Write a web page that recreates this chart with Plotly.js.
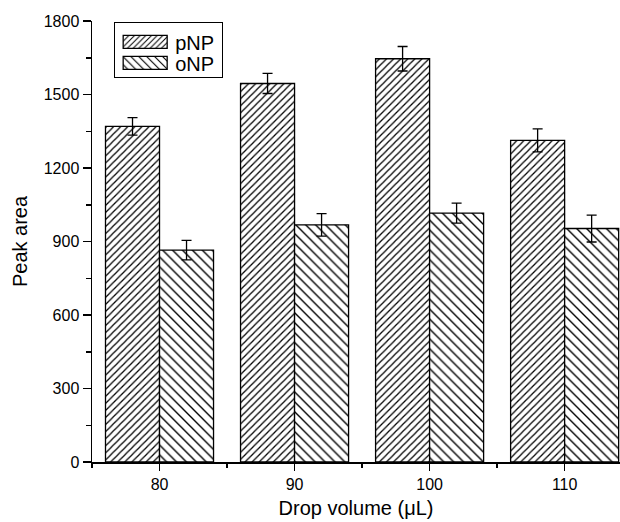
<!DOCTYPE html>
<html>
<head>
<meta charset="utf-8">
<script src="https://cdn.plot.ly/plotly-3.0.1.min.js"></script>
<style>html,body{margin:0;padding:0;background:#fff;overflow:hidden;}</style>
</head>
<body>
<div id="chart" style="width:620px;height:522px;"></div>
<script>
const volumes = [80, 90, 100, 110];
const pNP = [1370, 1545, 1646, 1313];
const pNPErr = [36, 41, 50, 47];
const oNP = [865, 968, 1016, 953];
const oNPErr = [40, 46, 41, 55];
const xTicks = [80, 90, 100, 110];

const font = "Liberation Sans, Arial, sans-serif";

const traces = [
  {
    type: 'bar', name: 'pNP', x: volumes, y: pNP,
    error_y: {type: 'data', array: pNPErr, visible: true, color: '#000', thickness: 1.3, width: 5},
    marker: {color: '#fff', line: {color: '#000', width: 1.3},
      pattern: {shape: '/', fgcolor: '#000', bgcolor: '#fff', size: 5, solidity: 0.25}}
  },
  {
    type: 'bar', name: 'oNP', x: volumes, y: oNP,
    error_y: {type: 'data', array: oNPErr, visible: true, color: '#000', thickness: 1.3, width: 5},
    marker: {color: '#fff', line: {color: '#000', width: 1.3},
      pattern: {shape: '\\', fgcolor: '#000', bgcolor: '#fff', size: 7, solidity: 0.2}}
  }
];

const layout = {
  width: 620, height: 522,
  margin: {l: 92, r: 0, t: 21, b: 60},
  paper_bgcolor: '#fff', plot_bgcolor: '#fff',
  barmode: 'group', bargap: 0.2, bargroupgap: 0,
  font: {family: font, color: '#000', size: 16},
  showlegend: true,
  legend: {x: 0.042, y: 0.998, xanchor: 'left', yanchor: 'top',
    bordercolor: '#000', borderwidth: 1, bgcolor: '#fff', itemwidth: 50,
    font: {family: font, size: 20, color: '#000'}, tracegroupgap: 0},
  xaxis: {
    range: [75, 114.1], tickmode: 'array', tickvals: xTicks, ticktext: xTicks.map(String),
    showgrid: false, zeroline: false, showline: true, linecolor: '#000', linewidth: 1.5,
    ticks: 'outside', ticklen: 7, tickwidth: 1.5, tickcolor: '#000',
    minor: {tick0: 75, dtick: 10, ticks: 'outside', ticklen: 4, tickwidth: 1.5, tickcolor: '#000', showgrid: false},
    tickfont: {family: font, size: 16},
    title: {text: 'Drop volume (μL)', font: {family: font, size: 20}, standoff: 9}
  },
  yaxis: {
    range: [0, 1800], dtick: 300, tick0: 0,
    showgrid: false, zeroline: false, showline: true, linecolor: '#000', linewidth: 1.5,
    ticks: 'outside', ticklen: 8, tickwidth: 1.5, tickcolor: '#000',
    minor: {dtick: 150, ticks: 'outside', ticklen: 5, tickwidth: 1.5, tickcolor: '#000', showgrid: false},
    tickfont: {family: font, size: 16},
    title: {text: 'Peak area', font: {family: font, size: 20}, standoff: 10}
  }
};

Plotly.newPlot('chart', traces, layout, {displayModeBar: false, staticPlot: true}).then(function (gd) {
  // widen legend swatches and tighten rows to match the reference legend box
  gd.querySelectorAll('.legend .legendpoints path').forEach(function (p) {
    p.setAttribute('d', 'M22,6.5H-22V-6.5H22Z');
  });
  const leg = gd.querySelector('.legend');
  if (leg) {
    const bg = leg.querySelector('rect.bg');
    if (bg) { bg.setAttribute('height', 55); bg.setAttribute('width', 108); }
    leg.querySelectorAll('.traces').forEach(function (t, i) {
      const m = /translate\(\s*([-\d.]+)[,\s]+([-\d.]+)\)/.exec(t.getAttribute('transform') || '');
      const tx = m ? m[1] : 1;
      t.setAttribute('transform', 'translate(' + tx + ',' + (20 + 21 * i) + ')');
    });
  }
});
</script>
</body>
</html>
